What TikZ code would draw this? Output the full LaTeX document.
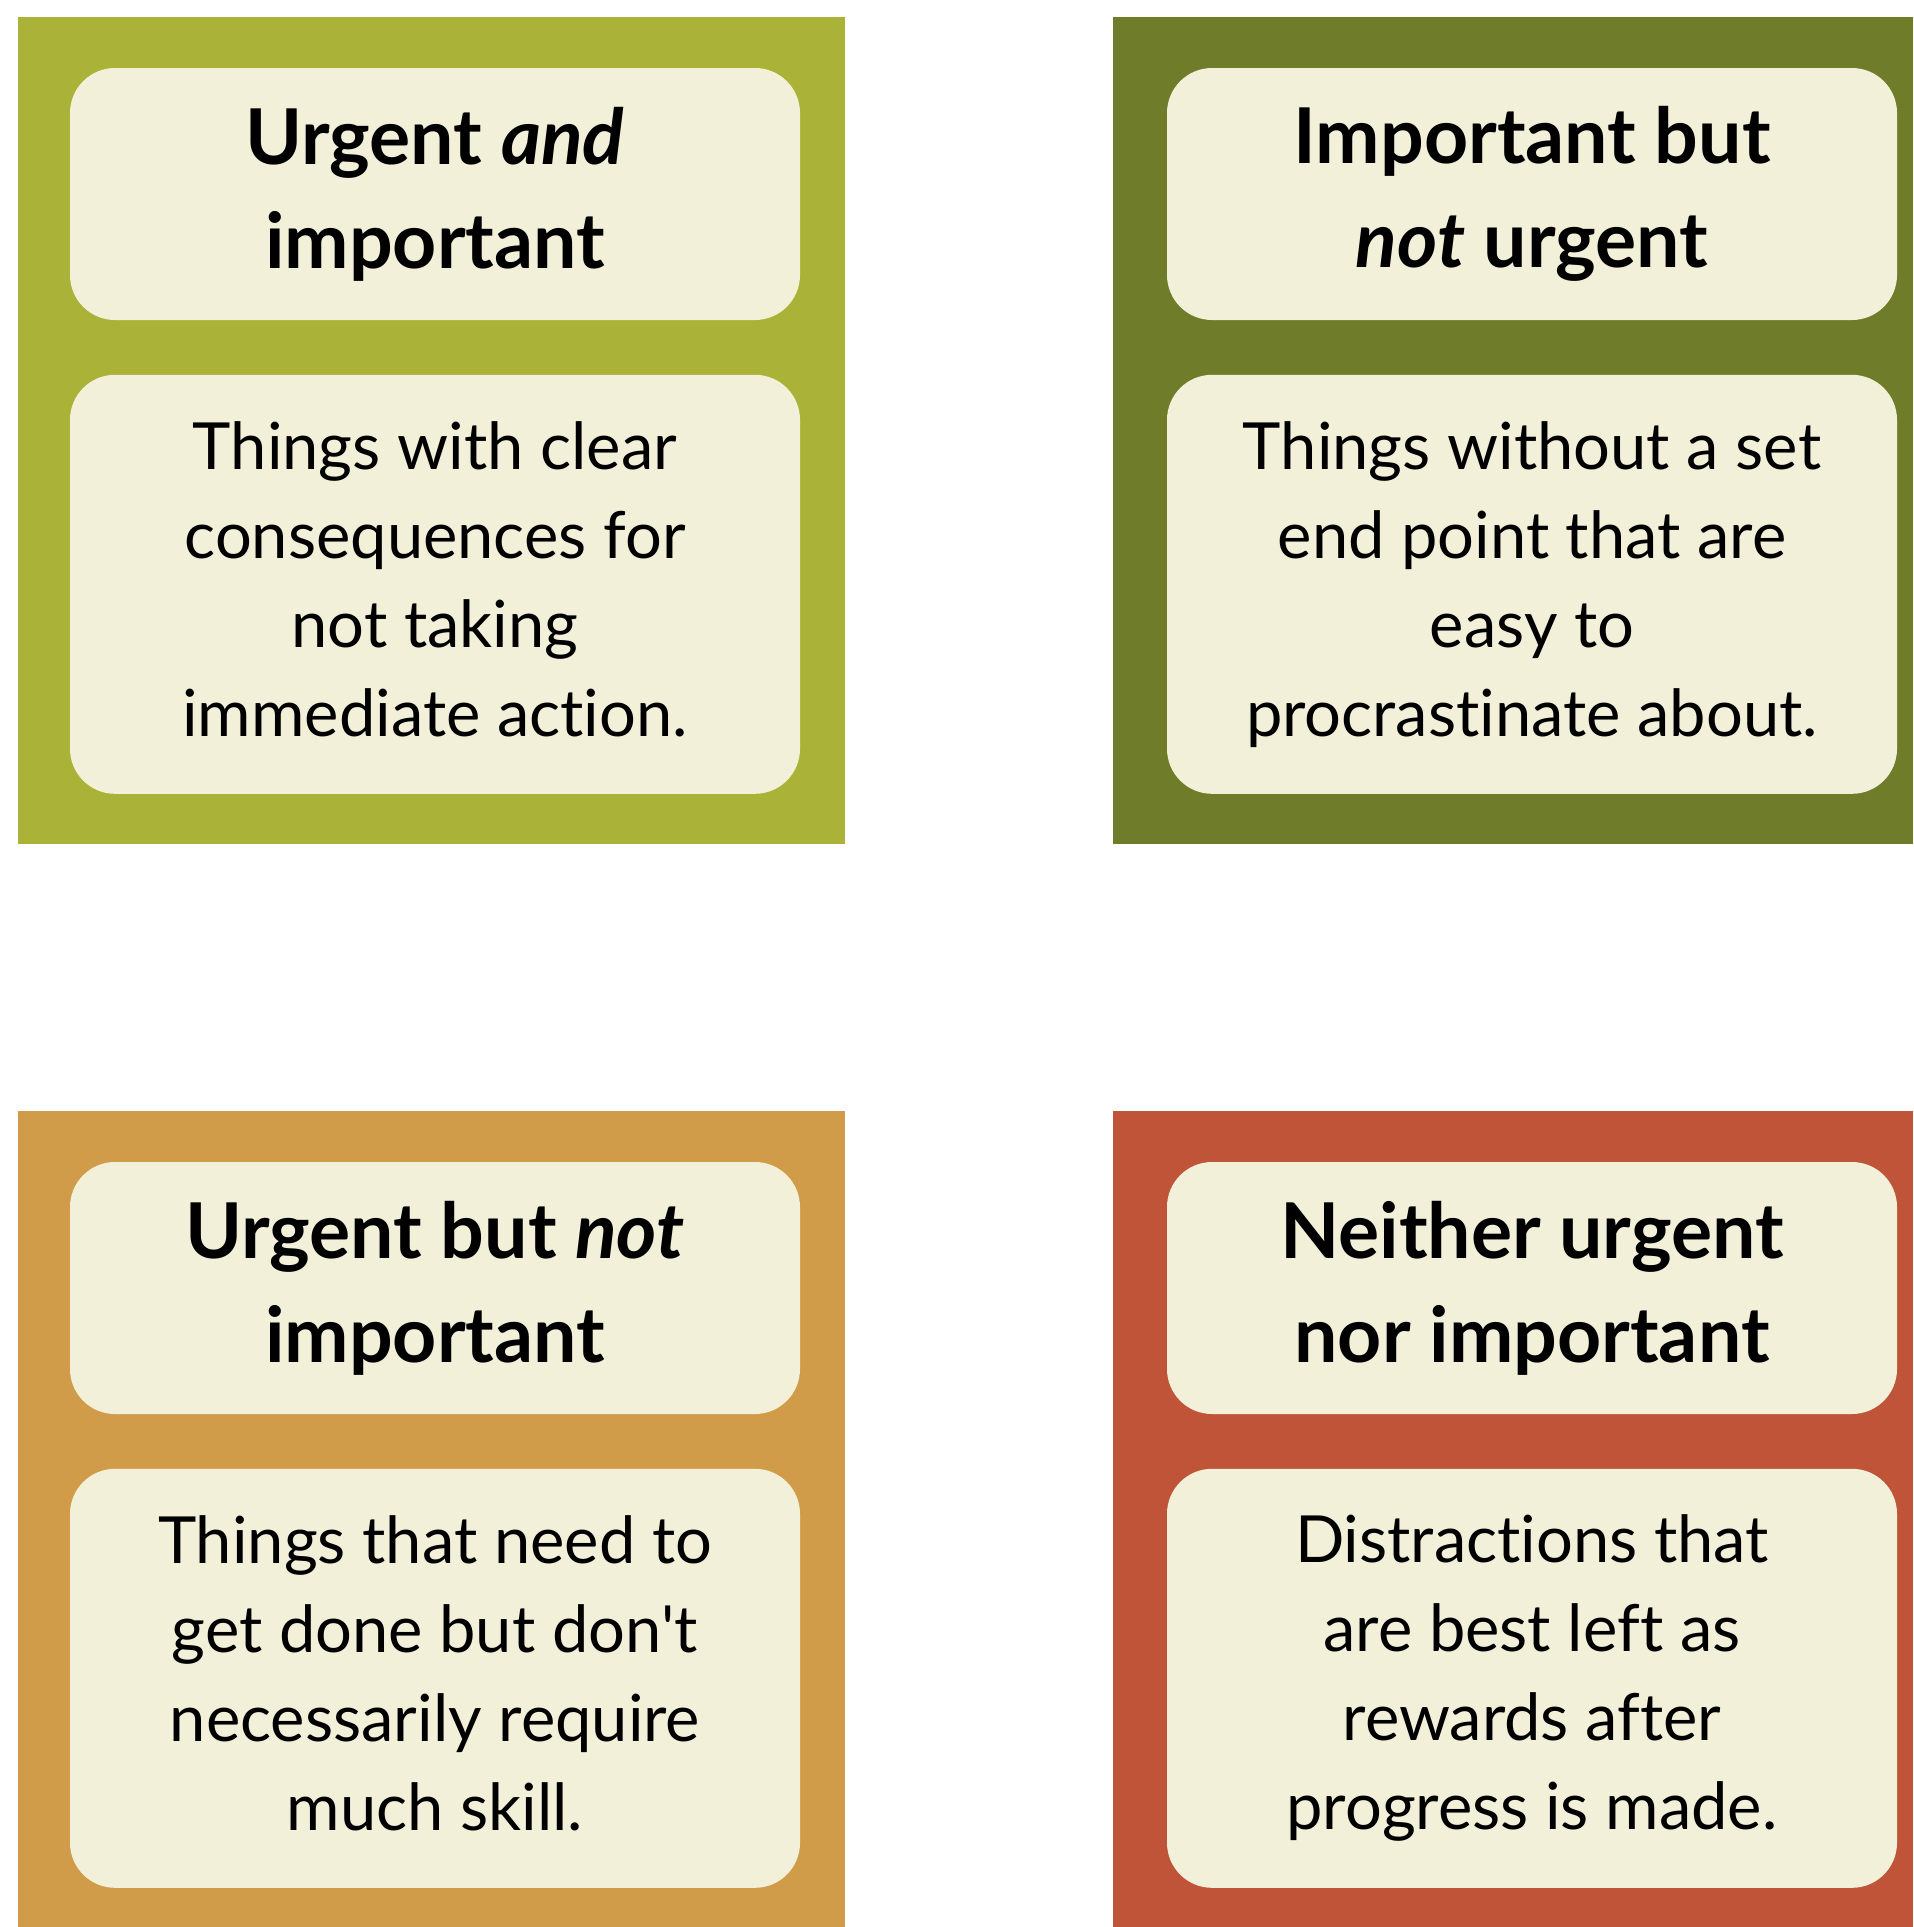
\documentclass[tikz,border=0pt]{standalone}
\usepackage{fontspec}
\setmainfont{Lato}[Ligatures=NoCommon]
\usetikzlibrary{positioning}

\definecolor{lime}{HTML}{ABB238}
\definecolor{olive}{HTML}{6F7C29}
\definecolor{ochre}{HTML}{D19C4A}
\definecolor{rust}{HTML}{C05439}
\definecolor{cream}{HTML}{F2F0D9}

\begin{document}
\begin{tikzpicture}[
  x=0.5pt, y=-0.5pt,
  card/.style={fill=cream,rounded corners=22.5pt,minimum width=365pt,align=center,inner sep=0pt,
    execute at end node=\vphantom{p}},
  titlebox/.style={card,minimum height=126pt,font=\bfseries\fontsize{38.5}{52}\selectfont},
  bodybox/.style={card,minimum height=209.5pt,font=\fontsize{32.5}{44.5}\selectfont}
]
  \useasboundingbox (0,0) rectangle (1913,1927);
  \fill[white] (0,0) rectangle (1913,1927);

  % the four quadrants
  \fill[lime]  (18,17)     rectangle (845,844);
  \fill[olive] (1113,17)   rectangle (1913,844);
  \fill[ochre] (18,1111)   rectangle (845,1927);
  \fill[rust]  (1113,1111) rectangle (1913,1927);

  \node[titlebox] (t1) at (435,194) {Urgent \textit{and}\\important};
  \node[bodybox, below=27pt of t1] (b1) {Things with clear\\consequences for\\not taking\\immediate action.};

  \node[titlebox] (t2) at (1532,194) {Important but\\\textit{not} urgent};
  \node[bodybox, below=27pt of t2] (b2) {Things without a set\\end point that are\\easy to\\procrastinate about.};

  \node[titlebox] (t3) at (435,1288) {Urgent but \textit{not}\\important};
  \node[bodybox, below=27pt of t3] (b3) {Things that need to\\get done but don\textquotesingle t\\necessarily require\\much skill.};

  \node[titlebox] (t4) at (1532,1288) {Neither urgent\\nor important};
  \node[bodybox, below=27pt of t4] (b4) {Distractions that\\are best left as\\rewards after\\progress is made.};
\end{tikzpicture}
\end{document}
